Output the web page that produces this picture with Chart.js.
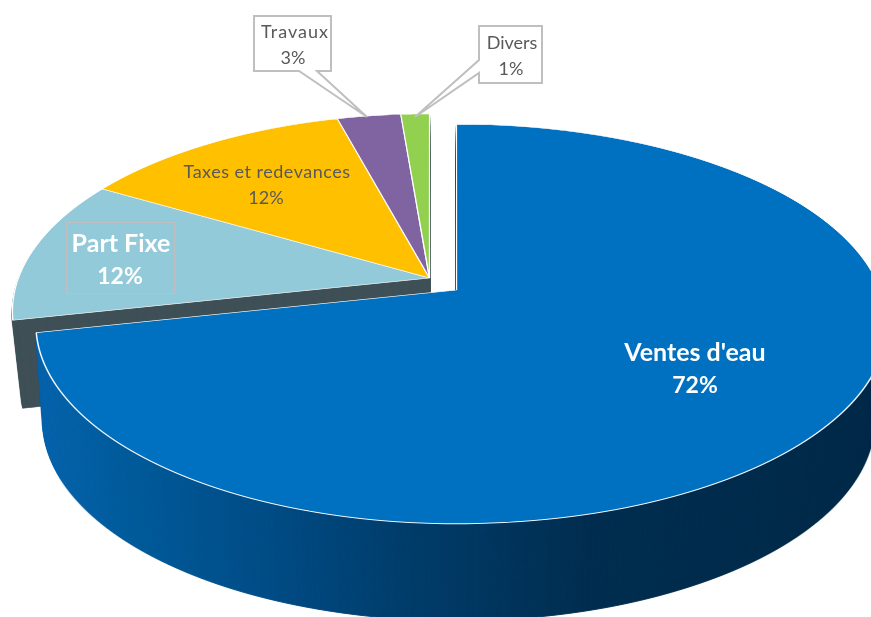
<!DOCTYPE html>
<html>
<head>
<meta charset="utf-8">
<style>html,body{margin:0;padding:0;background:#fff;overflow:hidden}canvas{display:block}</style>
<script src="https://cdn.jsdelivr.net/npm/chart.js@4"></script>
</head>
<body>
<canvas id="c" width="871" height="617"></canvas>
<script>
const categories = ["Ventes d'eau", "Part Fixe", "Taxes et redevances", "Travaux", "Divers"];
const shares = [71.6, 11.8, 12.4, 2.9, 1.3];
const sliceColors = ["#0070C0", "#92CAD9", "#FFC000", "#8064A2", "#92D050"];
const wallColor = "#3F5057";

// Perspective of the two pie pieces (projective mapping of the flat pie).
const bluePlane = {cx:456.5, cy:290, q:0.17, aR:194, fL:414.5, fR:424, depth:97, shrinkL:0.017, shrinkR:0.03};
const restPlane = {cx:429.5, cy:278, q:0.17, aR:192, fL:411, fR:411, depth:88, shrinkL:0.024, shrinkR:0.024};
const W = 871, H = 617, LW = W + 40;

function paint(t, arcs, p){
  for (const arc of arcs){
    const R = arc.outerRadius;
    for (let y = 0; y < H; y++){
      const d = y + 0.5 - p.cy;
      const den = p.aR + p.q * d;
      if (den <= 0) continue;
      const u = d / den;
      if (u < -1.02 || u > 1.02) continue;
      const w = 1 - p.q * u;
      const e = p.aR / (R * w * w);
      for (const side of [0, 1]){
        const a = (side ? p.fR : p.fL) / (R * w);
        const split = Math.round(p.cx);
        t.save();
        t.beginPath();
        if (side) t.rect(split, y, LW - split, 1); else t.rect(0, y, split, 1);
        t.clip();
        t.setTransform(a, 0, 0, e, p.cx - a * arc.x, y + 0.5 - e * (arc.y + u * R));
        arc.draw(t);
        t.restore();
      }
    }
  }
}
function layer(arcs, p, tint){
  const c = document.createElement('canvas'); c.width = LW; c.height = H;
  const t = c.getContext('2d');
  paint(t, arcs, p);
  t.globalCompositeOperation = 'source-in';
  t.fillStyle = tint(t);
  t.fillRect(0, 0, LW, H);
  return c;
}
function extrude(ctx, img, p){
  const split = Math.round(p.cx);
  for (let i = p.depth; i >= 1; i--){
    const sL = 1 - p.shrinkL * i / p.depth;
    const sR = 1 - p.shrinkR * i / p.depth;
    ctx.drawImage(img, 0, 0, split, H, split - sL * split, i, sL * split, H);
    ctx.drawImage(img, split, 0, LW - split, H, split, i, sR * (LW - split), H);
  }
}
function sideGradient(t){
  const g = t.createLinearGradient(36, 0, 878, 0);
  g.addColorStop(0, "#0864AC");
  g.addColorStop(0.12, "#005A99");
  g.addColorStop(0.28, "#004C85");
  g.addColorStop(0.42, "#003F6E");
  g.addColorStop(0.66, "#012E50");
  g.addColorStop(1, "#012A49");
  return g;
}
function callout(ctx, pts){
  ctx.beginPath();
  pts.forEach((q, i) => i ? ctx.lineTo(q[0], q[1]) : ctx.moveTo(q[0], q[1]));
  ctx.closePath();
  ctx.fillStyle = "#fff"; ctx.fill();
  ctx.strokeStyle = "#BFBFBF"; ctx.lineWidth = 2; ctx.lineJoin = 'miter'; ctx.stroke();
}
function text(ctx, str, x, y, font, color, spacing){
  ctx.font = font; ctx.fillStyle = color;
  ctx.letterSpacing = (spacing || 0) + "px";
  ctx.textAlign = 'center'; ctx.textBaseline = 'middle';
  ctx.fillText(str, x, y);
  ctx.letterSpacing = "0px";
}
const pct = i => Math.round(shares[i]) + "%";

const pie3d = {
  id:'pie3d',
  beforeDatasetsDraw(chart){
    const ctx = chart.ctx;
    const arcs = chart.getDatasetMeta(0).data;
    const blue = [arcs[0]], rest = arcs.slice(1);
    ctx.save();
    extrude(ctx, layer(rest, restPlane, () => wallColor), restPlane);
    paint(ctx, rest, restPlane);
    extrude(ctx, layer(blue, bluePlane, sideGradient), bluePlane);
    paint(ctx, blue, bluePlane);
    ctx.restore();

    const bold = "bold 25px Lato", boldPct = "bold 23px Lato", reg = "18px Lato", grey = "#595959";
    text(ctx, categories[0], 695, 353, bold, "#fff");
    text(ctx, pct(0), 695, 386, boldPct, "#fff");

    ctx.strokeStyle = "#BFBFBF"; ctx.lineWidth = 1;
    ctx.strokeRect(66.5, 222.5, 108, 71);
    text(ctx, categories[1], 121, 244, bold, "#fff");
    text(ctx, pct(1), 120, 277, boldPct, "#fff");

    text(ctx, categories[2], 267, 172, reg, grey, 0.5);
    text(ctx, pct(2), 266, 198, reg, grey);

    callout(ctx, [[254,16],[331,16],[331,71],[317,71],[367,117],[299,71],[254,71]]);
    text(ctx, categories[3], 295, 32, reg, grey, 1);
    text(ctx, pct(3), 293, 58, reg, grey);

    callout(ctx, [[479,26],[542,26],[542,83],[479,83],[479,73],[415,117],[479,60]]);
    text(ctx, categories[4], 512, 43, reg, grey);
    text(ctx, pct(4), 511, 69, reg, grey);
    return false;
  }
};

new Chart(document.getElementById('c'), {
  type:'pie',
  data:{ labels:categories, datasets:[{ data:shares, backgroundColor:sliceColors, borderColor:"#fff", borderWidth:1 }] },
  options:{
    responsive:false, animation:false, devicePixelRatio:1,
    layout:{padding:0},
    plugins:{legend:{display:false}, tooltip:{enabled:false}}
  },
  plugins:[pie3d]
});
</script>
</body>
</html>
